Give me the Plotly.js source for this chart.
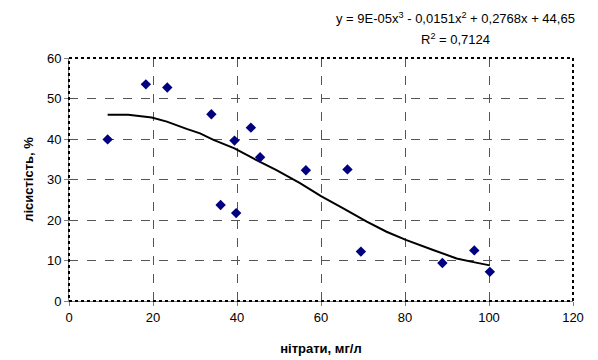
<!DOCTYPE html>
<html>
<head>
<meta charset="utf-8">
<script src="https://cdn.plot.ly/plotly-3.0.1.min.js"></script>
<style>html,body{margin:0;padding:0;background:#fff;}#chart{width:598px;height:360px;}</style>
</head>
<body>
<div id="chart"></div>
<script>
// observed data points
var nitrates = [9.2, 18.3, 23.4, 33.9, 36.1, 39.4, 39.8, 43.3, 45.5, 56.4, 66.3, 69.5, 88.9, 96.5, 100.2];
var forestCover = [39.9, 53.5, 52.7, 46.1, 23.7, 39.6, 21.7, 42.8, 35.5, 32.3, 32.5, 12.2, 9.4, 12.5, 7.2];

// trend line
var trendX = [9.2, 14.1, 19.7, 23.3, 28.0, 31.2, 34.4, 39.4, 43.9, 49.4, 55.0, 60.0, 65.3, 70.9, 75.6, 80.2, 86.7, 92.3, 96.3, 100.2];
var trendY = [46.0, 46.0, 45.3, 44.3, 42.5, 41.4, 39.8, 37.7, 35.2, 32.3, 29.1, 25.9, 22.9, 19.6, 17.1, 15.1, 12.6, 10.5, 9.6, 8.8];

var xTicks = [0, 20, 40, 60, 80, 100, 120];
var yTicks = [0, 10, 20, 30, 40, 50, 60];

var equationText = 'y = 9E-05x<sup>3</sup> - 0,0151x<sup>2</sup> + 0,2768x + 44,65';
var r2Text = 'R<sup>2</sup> = 0,7124';

var font = 'Liberation Sans, Arial, sans-serif';

var traces = [
  {
    x: trendX, y: trendY, type: 'scatter', mode: 'lines',
    line: {color: '#000000', width: 2, shape: 'linear'},
    hoverinfo: 'skip'
  },
  {
    x: nitrates, y: forestCover, type: 'scatter', mode: 'markers',
    marker: {symbol: 'diamond', size: 8, color: '#000080'}
  }
];

var layout = {
  width: 598, height: 360,
  margin: {l: 69, r: 25, t: 58, b: 59},
  paper_bgcolor: '#ffffff', plot_bgcolor: '#ffffff',
  showlegend: false,
  font: {family: font, size: 12, color: '#000000'},
  xaxis: {
    range: [0, 120], tickvals: xTicks, ticktext: xTicks.map(String),
    showgrid: true, gridcolor: '#555555', griddash: 'dash', gridwidth: 1,
    zeroline: false, showline: true, linecolor: '#808080', linewidth: 1,
    ticks: 'outside', ticklen: 4, tickcolor: '#808080',
    tickfont: {family: font, size: 13, color: '#000000'},
    title: {text: 'нітрати, мг/л', font: {family: font, size: 13, color: '#000000', weight: 'bold'}, standoff: 20}
  },
  yaxis: {
    range: [0, 60], tickvals: yTicks, ticktext: yTicks.map(String),
    showgrid: true, gridcolor: '#555555', griddash: 'dash', gridwidth: 1,
    zeroline: false, showline: true, linecolor: '#808080', linewidth: 1,
    ticks: 'outside', ticklen: 4, tickcolor: '#808080',
    tickfont: {family: font, size: 13, color: '#000000'},
    title: {text: 'лісистість, %', font: {family: font, size: 13, color: '#000000', weight: 'bold'}, standoff: 10}
  },
  shapes: [
    {type: 'rect', xref: 'paper', yref: 'paper', x0: 0, x1: 1, y0: 0, y1: 1,
     line: {color: '#000000', width: 2, dash: 'dot'}, layer: 'above'}
  ],
  annotations: [
    {xref: 'paper', yref: 'paper', x: 0.766, y: 1, yshift: 40, xanchor: 'center', yanchor: 'middle',
     text: equationText, showarrow: false, font: {family: font, size: 13, color: '#000000'}},
    {xref: 'paper', yref: 'paper', x: 0.766, y: 1, yshift: 19, xanchor: 'center', yanchor: 'middle',
     text: r2Text, showarrow: false, font: {family: font, size: 13, color: '#000000'}}
  ]
};

Plotly.newPlot('chart', traces, layout, {displayModeBar: false, staticPlot: true});
</script>
</body>
</html>
